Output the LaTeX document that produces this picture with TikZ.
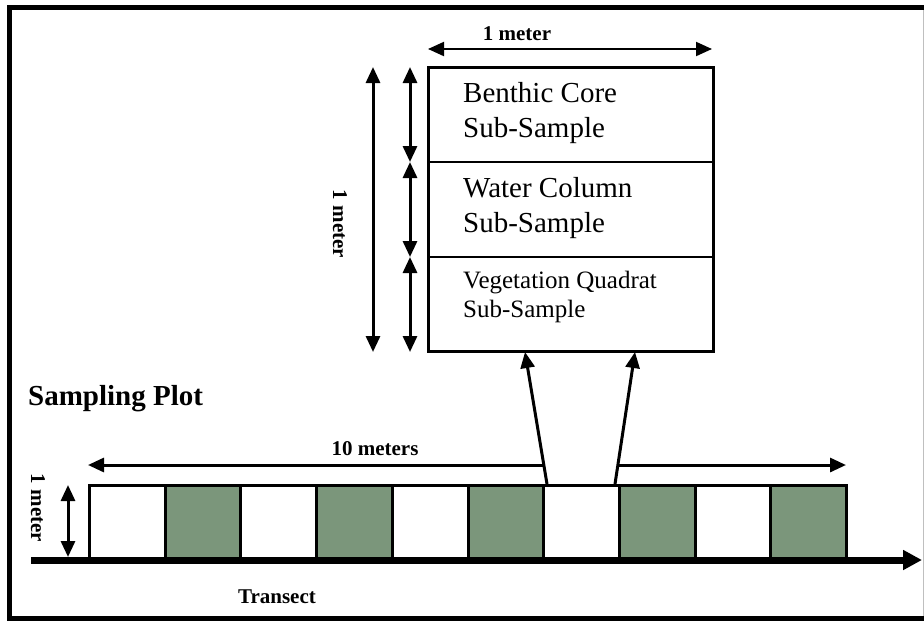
\documentclass[tikz,border=0pt]{standalone}
\usepackage{fontspec}
\setmainfont{Liberation Serif}
\usetikzlibrary{arrows.meta}
\definecolor{plotgreen}{RGB}{123,150,123}
\begin{document}
\begin{tikzpicture}[x=1pt,y=-1pt,
  dbl/.style={{Triangle[length=16pt,width=14pt]}-{Triangle[length=16pt,width=14pt]}, line width=3pt},
  onetip/.style={-{Triangle[length=16pt,width=14pt]}, line width=3pt},
  lbl/.style={font=\fontsize{21}{25}\selectfont\bfseries, inner sep=0pt},
  big/.style={font=\fontsize{29}{35}\selectfont, inner sep=0pt, anchor=base west},
  small/.style={font=\fontsize{25}{30}\selectfont, inner sep=0pt, anchor=base west},
  cell/.style={draw, line width=3pt, minimum width=75.7pt, minimum height=75pt, inner sep=0pt, anchor=north west},
]
\useasboundingbox (0,0) rectangle (924,622);
% frame
\draw[line width=5pt] (924,7.5) -- (9.5,7.5) -- (9.5,618) -- (924,618);
\draw[black!25, line width=1pt] (923,10) -- (923,616);

% top dimension
\coordinate (tl) at (428,49);
\coordinate (tr) at (712,49);
\draw[dbl, line width=2pt] (tl) -- (tr);
\node[lbl] (topm) at (517,34) {1 meter};

% sample box
\node[draw, line width=3pt, minimum width=285pt, minimum height=284pt, inner sep=0pt] (box) at (570.5,209) {};
\coordinate (d1l) at (428,162); \coordinate (d1r) at (713,162);
\coordinate (d2l) at (428,257); \coordinate (d2r) at (713,257);
\draw[line width=2pt] (d1l) -- (d1r);
\draw[line width=2pt] (d2l) -- (d2r);
\node[big] (t1) at (463,102) {Benthic Core};
\node[big] (t2) at (463,137) {Sub-Sample};
\node[big] (t3) at (463,197) {Water Column};
\node[big] (t4) at (463,232) {Sub-Sample};
\node[small] (t5) at (463,288) {Vegetation Quadrat};
\node[small] (t6) at (463,317) {Sub-Sample};

% vertical dimensions
\coordinate (v1t) at (373,67); \coordinate (v1b) at (373,352);
\draw[dbl] (v1t) -- (v1b);
\coordinate (v2a) at (410,67); \coordinate (v2b) at (410,162);
\coordinate (v2c) at (410,257); \coordinate (v2d) at (410,352);
\draw[dbl] (v2a) -- (v2b);
\draw[dbl] (v2b) -- (v2c);
\draw[dbl] (v2c) -- (v2d);
\node[lbl, rotate=-90] (sidem) at (340,224) {1 meter};

% sampling plot title
\node[font=\fontsize{29}{35}\selectfont\bfseries, anchor=base west, inner sep=0pt] (sp) at (28,405) {Sampling Plot};

% cells
\foreach \i in {0,...,9}{
  \pgfmathsetmacro{\xx}{88+75.7*\i}
  \ifodd\i
    \node[cell, fill=plotgreen] (sq\i) at (\xx,484) {};
  \else
    \node[cell, fill=white] (sq\i) at (\xx,484) {};
  \fi
}

% 10 meters dimension
\coordinate (tm1) at (88,465); \coordinate (tm2) at (544,465);
\coordinate (tm3) at (618,465); \coordinate (tm4) at (846,465);
\draw[{Triangle[length=16pt,width=14pt]}-, line width=3pt] (tm1) -- (tm2);
\draw[onetip] (tm3) -- (tm4);
\node[lbl] (tenm) at (375,449) {10 meters};

% arrows to box
\coordinate (s1) at (547,484); \coordinate (e1) at (525,352);
\coordinate (s2) at (615,484); \coordinate (e2) at (635,352);
\draw[onetip] (s1) -- (e1);
\draw[onetip] (s2) -- (e2);

% small height dimension
\coordinate (h1) at (68,485); \coordinate (h2) at (68,557);
\draw[dbl] (h1) -- (h2);
\node[lbl, rotate=-90] (leftm) at (38,508) {1 meter};

% transect
\coordinate (ts) at (31,560); \coordinate (te) at (922,560);
\draw[line width=7pt, -{Triangle[length=19pt,width=19pt]}] (ts) -- (te);
\node[lbl, anchor=base] (tr) at (277,603) {Transect};
\end{tikzpicture}
\end{document}
